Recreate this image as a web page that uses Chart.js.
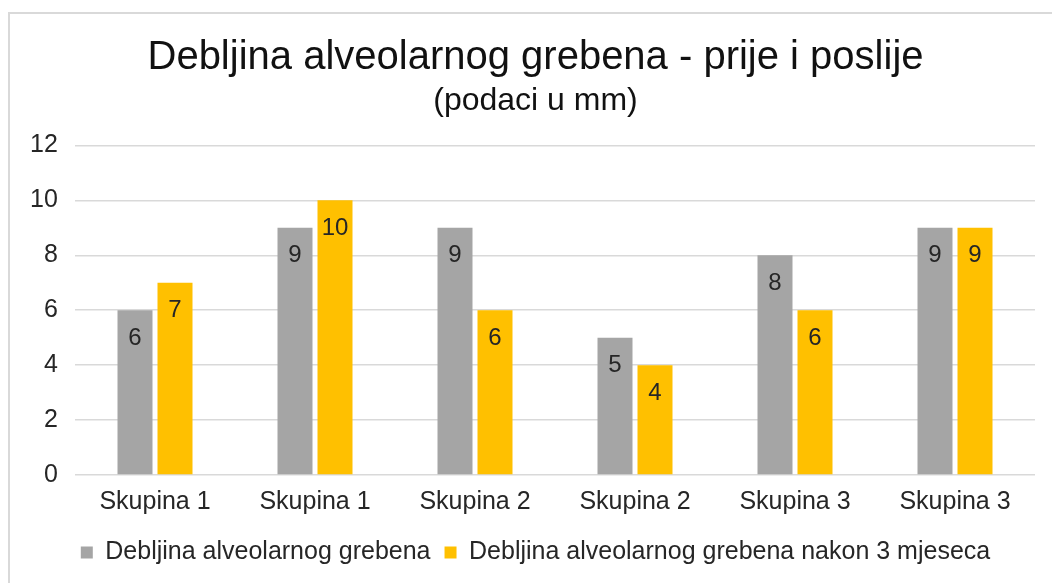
<!DOCTYPE html>
<html>
<head>
<meta charset="utf-8">
<script src="https://cdn.jsdelivr.net/npm/chart.js@4/dist/chart.umd.min.js"></script>
<style>
  html, body { margin: 0; padding: 0; background: #fff; }
  #wrap { position: relative; width: 1052px; height: 583px; overflow: hidden; }
  #frame { position: absolute; left: 8px; top: 12px; width: 1100px; height: 700px; border-left: 2px solid #d9d9d9; border-top: 2px solid #d9d9d9; box-sizing: border-box; }
  canvas { position: absolute; left: 0; top: 0; }
</style>
</head>
<body>
<div id="wrap">
  <div id="frame"></div>
  <canvas id="c" width="1052" height="583"></canvas>
</div>
<script>
const categories = ["Skupina 1", "Skupina 1", "Skupina 2", "Skupina 2", "Skupina 3", "Skupina 3"];
const seriesNames = ["Debljina alveolarnog grebena", "Debljina alveolarnog grebena nakon 3 mjeseca"];
const before = [6, 9, 9, 5, 8, 9];
const after = [7, 10, 6, 4, 6, 9];
const yTicks = [0, 2, 4, 6, 8, 10, 12];

const FONT = "'Liberation Sans', Arial, sans-serif";

const valueLabels = {
  id: 'valueLabels',
  afterDatasetsDraw(chart) {
    const ctx = chart.ctx;
    ctx.save();
    ctx.font = "24px " + FONT;
    ctx.fillStyle = "#262626";
    ctx.textAlign = "center";
    ctx.textBaseline = "middle";
    chart.data.datasets.forEach((ds, i) => {
      const meta = chart.getDatasetMeta(i);
      meta.data.forEach((bar, j) => {
        ctx.fillText(String(ds.data[j]), bar.x, bar.y + 28);
      });
    });
    ctx.restore();
  }
};

new Chart(document.getElementById('c'), {
  type: 'bar',
  data: {
    labels: categories,
    datasets: [
      { label: seriesNames[0], data: before, backgroundColor: '#A5A5A5', categoryPercentage: 0.5, barPercentage: 0.875 },
      { label: seriesNames[1], data: after, backgroundColor: '#FFC000', categoryPercentage: 0.5, barPercentage: 0.875 }
    ]
  },
  options: {
    responsive: false,
    animation: false,
    layout: { padding: { left: 36, right: 17, top: 34, bottom: 8 } },
    scales: {
      x: {
        grid: { display: false },
        border: { display: false },
        ticks: { color: '#262626', font: { family: FONT, size: 25 }, padding: 4 },
        afterFit(scale) { scale.height = 51; }
      },
      y: {
        min: 0, max: 12,
        afterBuildTicks(axis) { axis.ticks = yTicks.map(v => ({ value: v })); },
        grid: { color: '#d9d9d9', lineWidth: 1.5, drawTicks: false },
        border: { display: false },
        ticks: { color: '#262626', font: { family: FONT, size: 25 }, mirror: true, crossAlign: 'far', padding: -45 },
        afterFit(scale) { scale.width = 39; }
      }
    },
    plugins: {
      title: {
        display: true,
        text: 'Debljina alveolarnog grebena - prije i poslije',
        color: '#111',
        font: { family: FONT, size: 40, weight: 'normal' },
        padding: { top: 0, bottom: 0 }
      },
      subtitle: {
        display: true,
        text: '(podaci u mm)',
        color: '#111',
        font: { family: FONT, size: 32, weight: 'normal' },
        padding: { top: 0, bottom: 25 }
      },
      legend: {
        position: 'bottom',
        labels: {
          color: '#262626',
          font: { family: FONT, size: 25 },
          boxWidth: 12, boxHeight: 12, padding: 14
        }
      },
      tooltip: { enabled: false }
    }
  },
  plugins: [valueLabels]
});
</script>
</body>
</html>
